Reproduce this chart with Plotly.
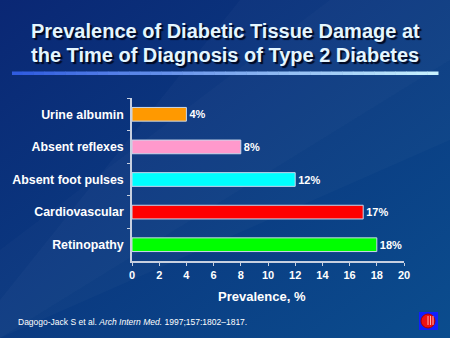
import base64
import plotly.graph_objects as go

categories = ["Urine albumin", "Absent reflexes", "Absent foot pulses", "Cardiovascular", "Retinopathy"]
values = [4, 8, 12, 17, 18]
bar_colors = ["#ff9900", "#ff99cc", "#00ffff", "#ff0000", "#00ff00"]
x_ticks = [0, 2, 4, 6, 8, 10, 12, 14, 16, 18, 20]

W, H = 450, 338

svg = f'''<svg xmlns="http://www.w3.org/2000/svg" width="{W}" height="{H}" viewBox="0 0 {W} {H}">
<defs><linearGradient id="g" x1="0" y1="0" x2="1" y2="1">
<stop offset="0" stop-color="#0a2774"/><stop offset="1" stop-color="#0b4d8e"/></linearGradient></defs>
<rect width="{W}" height="{H}" fill="url(#g)"/>
<polygon points="240,0 450,0 450,140 0,338 0,300" fill="#ffffff" fill-opacity="0.025"/>
<polygon points="330,0 450,0 450,60 0,338 0,250" fill="#ffffff" fill-opacity="0.02"/>
</svg>'''
bg_src = "data:image/svg+xml;base64," + base64.b64encode(svg.encode()).decode()

fig = go.Figure()
fig.add_trace(go.Bar(
    y=categories, x=values, orientation="h",
    marker=dict(color=bar_colors, line=dict(color="#c8d8ec", width=1)),
    width=0.42,
    text=[f"{v}%" for v in values], textposition="outside", cliponaxis=False,
    textfont=dict(family="Arial, Liberation Sans", size=11, color="white", weight="bold"),
    hoverinfo="skip",
))

axis_font = dict(family="Arial, Liberation Sans", color="white", weight="bold")
fig.update_layout(
    width=W, height=H,
    margin=dict(l=132, r=46, t=98, b=77),
    paper_bgcolor="#0b3a80", plot_bgcolor="rgba(0,0,0,0)",
    showlegend=False, bargap=0.58,
    images=[dict(source=bg_src, xref="paper", yref="paper", x=-132/272, y=1+98/163,
                 sizex=W/272, sizey=H/163, sizing="stretch", layer="below",
                 xanchor="left", yanchor="top")],
    xaxis=dict(range=[0, 20], tickvals=x_ticks, showgrid=False, zeroline=False,
               showline=True, linecolor="#c8d0e0", linewidth=1.5,
               ticks="outside", ticklen=3, tickcolor="#c8d0e0",
               tickfont=dict(size=11, **axis_font), fixedrange=True),
    yaxis=dict(autorange="reversed", showgrid=False, zeroline=False,
               showline=True, linecolor="#c8d0e0", linewidth=1.5,
               ticks="outside", ticklen=3, tickcolor="#c8d0e0", tickson="boundaries",
               ticklabelstandoff=4,
               tickfont=dict(size=12.4, **axis_font), fixedrange=True),
)

title_font = dict(family="Arial, Liberation Sans", size=20, color="#e4f6ff", weight="bold",
                  shadow="2px 2px 1px #000820")
fig.add_annotation(text="Prevalence of Diabetic Tissue Damage at", xref="paper", yref="paper",
                   x=(225-132)/272, y=(261-31)/163, showarrow=False, font=title_font,
                   xanchor="center", yanchor="middle")
fig.add_annotation(text="the Time of Diagnosis of Type 2 Diabetes", xref="paper", yref="paper",
                   x=(225-132)/272, y=(261-55)/163, showarrow=False, font=title_font,
                   xanchor="center", yanchor="middle")
fig.add_annotation(text="Prevalence, %", xref="paper", yref="paper",
                   x=(262-132)/272, y=(261-296)/163, showarrow=False,
                   font=dict(size=13, **axis_font), xanchor="center", yanchor="middle")
fig.add_annotation(text="Dagogo-Jack S et al. <i>Arch Intern Med.</i> 1997;157:1802–1817.",
                   xref="paper", yref="paper", x=(16-132)/272, y=(261-322)/163,
                   showarrow=False, font=dict(family="Arial, Liberation Sans", size=8.5, color="white"),
                   xanchor="left", yanchor="middle")

# gradient rule under title
def px_x(v):
    return (v - 132) / 272
def px_y(v):
    return (261 - v) / 163

n = 40
x0, x1 = 12, 438
c0 = (0x30, 0x5c, 0xe0)
c1 = (0xc8, 0xf2, 0xff)
for i in range(n):
    t = i / (n - 1)
    c = tuple(int(c0[k] + (c1[k] - c0[k]) * t) for k in range(3))
    xa = x0 + (x1 - x0) * i / n
    xb = x0 + (x1 - x0) * (i + 1) / n + 0.5
    fig.add_shape(type="rect", xref="paper", yref="paper",
                  x0=px_x(xa), x1=px_x(xb), y0=px_y(75), y1=px_y(71.5),
                  fillcolor=f"rgb{c}", line=dict(width=0), layer="above")

# logo
fig.add_shape(type="rect", xref="paper", yref="paper", x0=px_x(419), x1=px_x(438),
              y0=px_y(330), y1=px_y(312), fillcolor="#1020ff", line=dict(width=0))
fig.add_shape(type="circle", xref="paper", yref="paper", x0=px_x(421), x1=px_x(435),
              y0=px_y(328), y1=px_y(314), fillcolor="#ee1111", line=dict(color="#aa0000", width=1))
for xx in (428, 430.5, 433):
    fig.add_shape(type="line", xref="paper", yref="paper", x0=px_x(xx), x1=px_x(xx),
                  y0=px_y(325), y1=px_y(316), line=dict(color="#ffb0b0", width=1))

fig.write_html("out.html", config={"displayModeBar": False})
